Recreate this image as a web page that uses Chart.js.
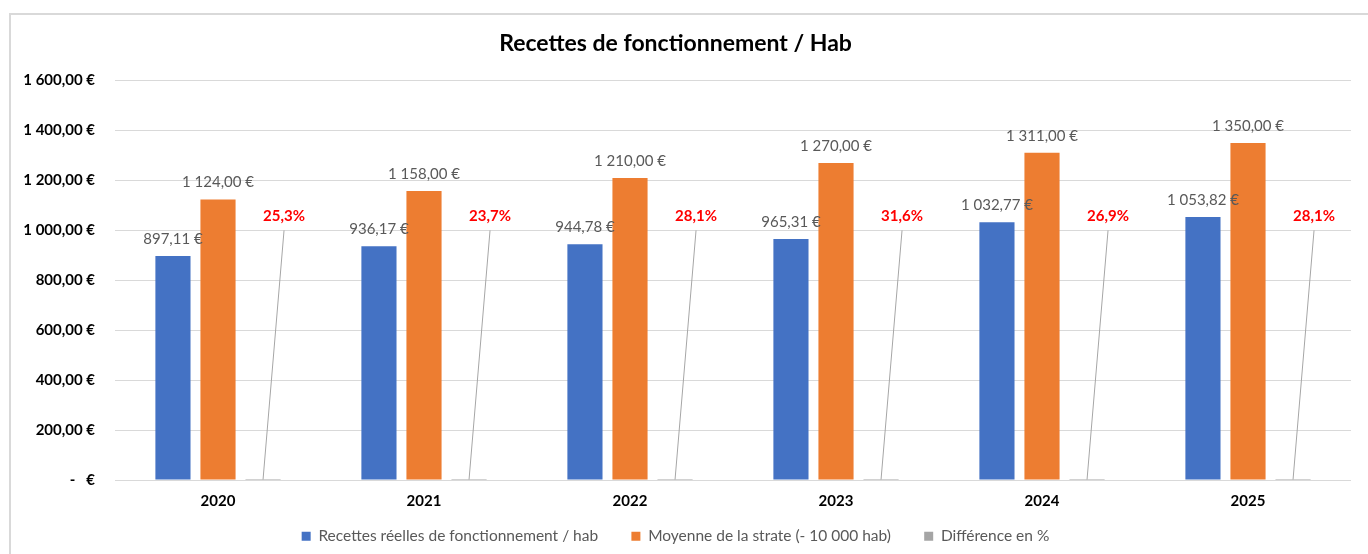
<!DOCTYPE html>
<html>
<head>
<meta charset="utf-8">
<script src="https://cdn.jsdelivr.net/npm/chart.js@4"></script>
<style>
  html, body { margin: 0; padding: 0; background: #fff; overflow: hidden; }
  #wrap { position: relative; width: 1368px; height: 554px; }
  #frame { position: absolute; left: 9px; top: 13px; width: 1400px; height: 600px; border: 2px solid #d9d9d9; }
  canvas { position: absolute; left: 0; top: 0; }
</style>
</head>
<body>
<div id="wrap">
  <div id="frame"></div>
  <canvas id="chart" width="1368" height="554"></canvas>
</div>
<script>
// data
const years = ["2020", "2021", "2022", "2023", "2024", "2025"];
const recettes = [897.11, 936.17, 944.78, 965.31, 1032.77, 1053.82];
const moyenne = [1124, 1158, 1210, 1270, 1311, 1350];
const diffPct = [25.3, 23.7, 28.1, 31.6, 26.9, 28.1];

const seriesNames = [
  "Recettes réelles de fonctionnement / hab",
  "Moyenne de la strate (- 10 000 hab)",
  "Différence en %"
];

// 1 124,00 €
function eur(v) {
  if (v === 0) return "-   €";
  const parts = v.toFixed(2).split(".");
  return parts[0].replace(/\B(?=(\d{3})+(?!\d))/g, " ") + "," + parts[1] + " €";
}
function pct(v) {
  return v.toFixed(1).replace(".", ",") + "%";
}

// value labels + leader lines for the % series
const labelPlugin = {
  id: "valueLabels",
  afterDatasetsDraw(chart) {
    const ctx = chart.ctx;
    const y = chart.scales.y;
    ctx.save();
    [0, 1].forEach(di => {
      const meta = chart.getDatasetMeta(di);
      if (meta.hidden) return;
      meta.data.forEach((bar, i) => {
        ctx.font = "15px Lato";
        ctx.fillStyle = "#595959";
        ctx.textAlign = "center";
        ctx.textBaseline = "middle";
        ctx.fillText(eur(chart.data.datasets[di].data[i]), bar.x, bar.y - 17);
      });
    });
    const meta = chart.getDatasetMeta(2);
    if (!meta.hidden) {
      meta.data.forEach((bar, i) => {
        const tx = bar.x + 21;
        const lineTop = y.getPixelForValue(1000);
        ctx.strokeStyle = "#a6a6a6";
        ctx.lineWidth = 1;
        ctx.beginPath();
        ctx.moveTo(bar.x, bar.base);
        ctx.lineTo(tx, lineTop);
        ctx.stroke();
        ctx.font = "bold 15px Lato";
        ctx.fillStyle = "#ff0000";
        ctx.textAlign = "center";
        ctx.textBaseline = "middle";
        ctx.fillText(pct(diffPct[i]), tx, lineTop - 14);
      });
    }
    ctx.restore();
  }
};

new Chart(document.getElementById("chart"), {
  type: "bar",
  data: {
    labels: years,
    datasets: [
      { label: seriesNames[0], data: recettes, backgroundColor: "#4472c4" },
      { label: seriesNames[1], data: moyenne, backgroundColor: "#ed7d31" },
      { label: seriesNames[2], data: diffPct.map(v => v / 100), backgroundColor: "#a5a5a5" }
    ]
  },
  options: {
    responsive: false,
    animation: false,
    categoryPercentage: 0.656,
    barPercentage: 0.78,
    layout: { padding: { left: 0, right: 17, top: 0, bottom: 0 } },
    plugins: {
      title: {
        display: true,
        text: "Recettes de fonctionnement / Hab",
        color: "#000",
        font: { family: "Lato", size: 23, weight: "bold" },
        padding: { top: 30, bottom: 23 }
      },
      legend: {
        position: "bottom",
        labels: {
          color: "#595959",
          font: { family: "Lato", size: 15.5 },
          boxWidth: 9,
          boxHeight: 9,
          padding: 10,
          // wider gap between items, as in the original legend
          generateLabels(chart) {
            const items = Chart.defaults.plugins.legend.labels.generateLabels(chart);
            items.forEach((it, i) => { if (i < items.length - 1) it.text += "\u2003\u2003"; });
            return items;
          }
        }
      },
      tooltip: { enabled: false }
    },
    scales: {
      x: {
        grid: { display: false, drawTicks: false },
        border: { display: false },
        ticks: { color: "#000", font: { family: "Lato", size: 15, weight: "bold" }, padding: 12 },
        afterFit(scale) { scale.height = 38.4; }
      },
      y: {
        min: 0,
        max: 1600,
        grid: { color: "#d9d9d9", lineWidth: 1, drawTicks: false },
        border: { display: false },
        ticks: {
          stepSize: 200,
          color: "#000",
          font: { family: "Lato", size: 15, weight: "bold" },
          padding: 20,
          callback: v => eur(v)
        },
        afterFit(scale) { scale.width = 115; }
      }
    }
  },
  plugins: [labelPlugin]
});
</script>
</body>
</html>
